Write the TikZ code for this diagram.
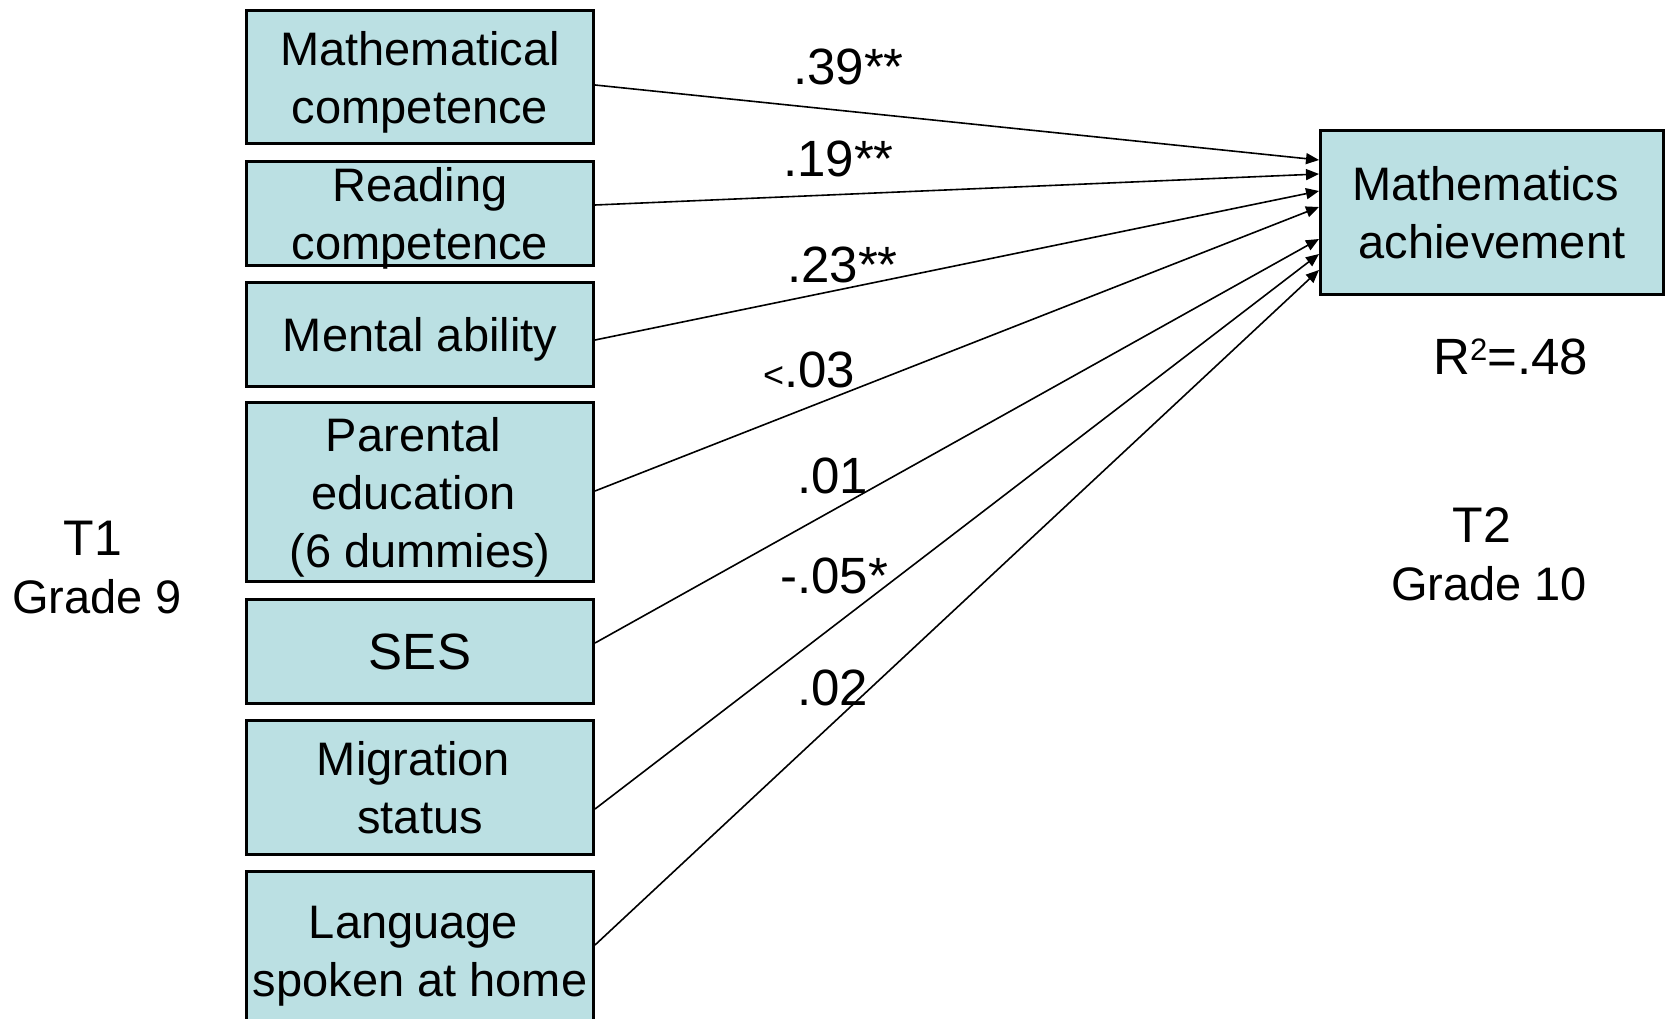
\documentclass[tikz,border=0pt]{standalone}
\usepackage{fontspec}
\setmainfont{Liberation Sans}
\usetikzlibrary{arrows.meta}
\definecolor{boxfill}{HTML}{BBE0E3}
\tikzset{
  varbox/.style={draw=black, line width=3pt, fill=boxfill, align=center, inner sep=2pt,
    text depth=0pt, minimum width=347pt, font=\fontsize{47pt}{58pt}\selectfont},
  parrow/.style={-{Triangle[length=13pt,width=11pt]}, line width=1.6pt},
  coef/.style={anchor=base west, inner sep=0pt, font=\fontsize{51pt}{60pt}\selectfont},
  tlabel/.style={anchor=base, inner sep=0pt, font=\fontsize{50pt}{60pt}\selectfont},
  glabel/.style={anchor=base, inner sep=0pt, font=\fontsize{47pt}{58pt}\selectfont}
}
% trailing blank as in the slide
\newcommand{\tsp}{\kern13pt}

\begin{document}
\begin{tikzpicture}[x=1pt, y=-1pt]
    \useasboundingbox (0,0) rectangle (1667,1019);
    \clip (0,0) rectangle (1667,1019);
    \node[varbox, minimum height=133pt] (mc) at (420,77) {Mathematical\\competence};
    \node[varbox, minimum height=104pt] (rc) at (420,213.5) {Reading\\competence};
    \node[varbox, minimum height=104pt] (ma) at (420,334.5) {Mental ability};
    \node[varbox, minimum height=179pt] (pe) at (420,492) {Parental\tsp\\education\tsp\\(6 dummies)};
    \node[varbox, minimum height=104pt, font=\fontsize{51pt}{58pt}\selectfont] (ses) at (420,651.5) {SES};
    \node[varbox, minimum height=134pt] (mig) at (420,787.5) {Migration\tsp\\status};
    \node[varbox, minimum height=160pt] (lang) at (420,951) {Language\tsp\\spoken at home};
    \node[varbox, minimum width=343pt, minimum height=164pt] (ach) at (1492,212.5) {Mathematics\tsp\\achievement};
    \draw[parrow] ([yshift=-8pt]mc.east) -- ([yshift=52.5pt]ach.west);
    \draw[parrow] ([yshift=8.5pt]rc.east) -- ([yshift=38.5pt]ach.west);
    \draw[parrow] ([yshift=-5.5pt]ma.east) -- ([yshift=21.5pt]ach.west);
    \draw[parrow] ([yshift=1pt]pe.east) -- ([yshift=5.5pt]ach.west);
    \draw[parrow] ([yshift=8.5pt]ses.east) -- ([yshift=-26.5pt]ach.west);
    \draw[parrow] ([yshift=-21.5pt]mig.east) -- ([yshift=-41.5pt]ach.west);
    \draw[parrow] ([yshift=6pt]lang.east) -- ([yshift=-57.5pt]ach.west);
    \node[coef] (c1) at (793,85) {.39**};
    \node[coef] (c2) at (783,177) {.19**};
    \node[coef] (c3) at (787,282) {.23**};
    \node[coef] (c4) at (763,387) {{\fontsize{36pt}{40pt}\selectfont<}.03};
    \node[coef] (c5) at (797,493) {.01};
    \node[coef] (c6) at (780,593) {-.05*};
    \node[coef] (c7) at (797,705) {.02};
    \node[coef] (rsq) at (1433,374) {R\raisebox{14pt}{\fontsize{31pt}{31pt}\selectfont2}=.48};
    \node[tlabel] (t1) at (93,555) {T1};
    \node[glabel] (g9) at (97,613) {Grade 9};
    \node[tlabel] (t2) at (1482,542) {T2};
    \node[glabel] (g10) at (1489,600) {Grade 10};
\end{tikzpicture}
\end{document}
